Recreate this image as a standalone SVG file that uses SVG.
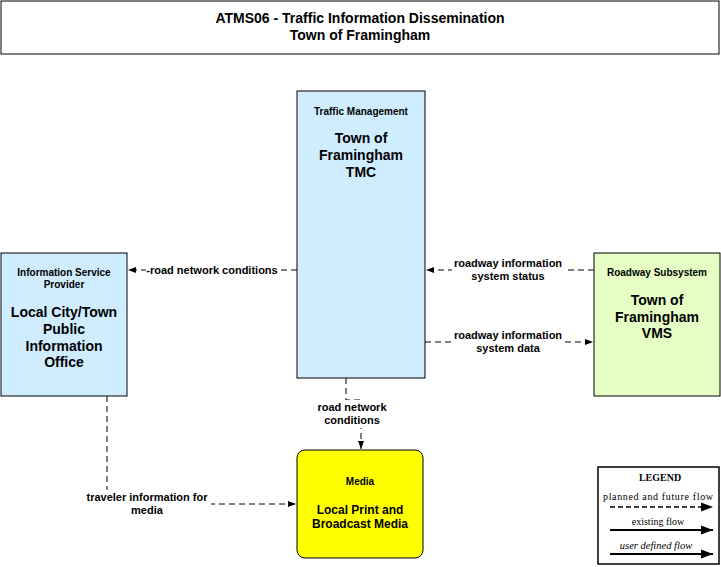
<svg xmlns="http://www.w3.org/2000/svg" width="721" height="567" viewBox="0 0 721 567">
<style>
.box{stroke:#000;stroke-width:1}
.t{font-family:"Liberation Sans",Arial,sans-serif;font-weight:bold;text-anchor:middle;fill:#000}
.sm{font-size:10px}
.big{font-size:14px}
.lbl{font-family:"Liberation Sans",Arial,sans-serif;font-size:11px;font-weight:bold;text-anchor:middle;fill:#000}
.flow{fill:none;stroke:#000;stroke-width:1;stroke-dasharray:6,4}
.lg{font-family:"Liberation Serif","Times New Roman",serif;font-size:10px;text-anchor:middle;fill:#000}
</style>
<defs>
<marker id="ah" markerWidth="8" markerHeight="8" refX="8" refY="4" orient="auto" markerUnits="userSpaceOnUse">
<path d="M0,1 L8,4 L0,7 Z" fill="#000"/>
</marker>
<marker id="ahL" markerWidth="12" markerHeight="10" refX="12" refY="5" orient="auto" markerUnits="userSpaceOnUse">
<path d="M0,0.5 L12,5 L0,9.5 Z" fill="#000"/>
</marker>
</defs>
<rect width="721" height="567" fill="#fff"/>
<g id="title">
<rect x="1" y="1" width="718" height="53" fill="#fff" class="box"/>
<text x="360" y="23" class="t" style="font-size:14px">ATMS06 - Traffic Information Dissemination</text>
<text x="360" y="40" class="t" style="font-size:14px">Town of Framingham</text>
</g>
<g id="connectors">
<line x1="297" y1="270" x2="128" y2="270" class="flow" marker-end="url(#ah)"/>
<line x1="594" y1="270" x2="426" y2="270" class="flow" marker-end="url(#ah)"/>
<line x1="425" y1="342" x2="593" y2="342" class="flow" marker-end="url(#ah)"/>
<path d="M346,378 V400 H361 V449" class="flow" marker-end="url(#ah)"/>
<path d="M107,396 V504 H296" class="flow" marker-end="url(#ah)"/>
<rect x="146" y="263" width="132" height="13" fill="#fff"/>
<text x="212" y="274" class="lbl">-road network conditions</text>
<rect x="452" y="256" width="112" height="26" fill="#fff"/>
<text x="508" y="267" class="lbl">roadway information</text>
<text x="508" y="280" class="lbl">system status</text>
<rect x="452" y="328" width="112" height="26" fill="#fff"/>
<text x="508" y="339" class="lbl">roadway information</text>
<text x="508" y="352" class="lbl">system data</text>
<rect x="314" y="400" width="76" height="28" fill="#fff"/>
<text x="352" y="411" class="lbl">road network</text>
<text x="352" y="424" class="lbl">conditions</text>
<rect x="84" y="490" width="127" height="27" fill="#fff"/>
<text x="147" y="501" class="lbl">traveler information for</text>
<text x="147" y="514" class="lbl">media</text>
</g>
<g id="tmc">
<rect x="297" y="91" width="128" height="287" fill="#d0ecff" class="box"/>
<text x="361" y="115" class="t sm">Traffic Management</text>
<text x="361" y="143" class="t big">Town of</text>
<text x="361" y="160" class="t big">Framingham</text>
<text x="361" y="177" class="t big">TMC</text>
</g>
<g id="isp">
<rect x="1" y="253" width="126" height="143" fill="#d0ecff" class="box"/>
<text x="64" y="276" class="t sm">Information Service</text>
<text x="64" y="288" class="t sm">Provider</text>
<text x="64" y="317" class="t big">Local City/Town</text>
<text x="64" y="334" class="t big">Public</text>
<text x="64" y="351" class="t big">Information</text>
<text x="64" y="367" class="t big">Office</text>
</g>
<g id="vms">
<rect x="594" y="253" width="126" height="143" fill="#e6ffc4" class="box"/>
<text x="657" y="276" class="t sm">Roadway Subsystem</text>
<text x="657" y="305" class="t big">Town of</text>
<text x="657" y="322" class="t big">Framingham</text>
<text x="657" y="338" class="t big">VMS</text>
</g>
<g id="media">
<rect x="297" y="450" width="126" height="108" rx="8" ry="8" fill="#ffff00" class="box"/>
<text x="360" y="485" class="t sm">Media</text>
<text x="360" y="514" class="t" style="font-size:12px">Local Print and</text>
<text x="360" y="528" class="t" style="font-size:12px">Broadcast Media</text>
</g>
<g id="legend">
<rect x="598" y="467" width="121" height="97" fill="#fff" stroke="#000" stroke-width="1.5"/>
<text x="660" y="481" class="lg" style="font-weight:bold">LEGEND</text>
<text x="658" y="500" class="lg" textLength="110" lengthAdjust="spacing">planned and future flow</text>
<line x1="610" y1="507" x2="713" y2="507" stroke="#000" stroke-width="1.5" stroke-dasharray="5,3" marker-end="url(#ahL)"/>
<text x="658" y="525" class="lg">existing flow</text>
<line x1="610" y1="530" x2="713" y2="530" stroke="#000" stroke-width="2" marker-end="url(#ahL)"/>
<text x="656" y="549" class="lg" style="font-style:italic;font-size:10.5px">user defined flow</text>
<line x1="610" y1="554" x2="713" y2="554" stroke="#000" stroke-width="2" marker-end="url(#ahL)"/>
</g>
</svg>
